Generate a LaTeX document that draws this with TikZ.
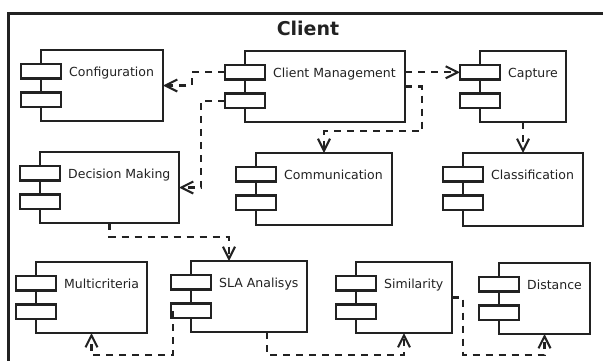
\documentclass[tikz,border=0pt]{standalone}
\usepackage{fontspec}
\setmainfont{DejaVu Sans}
\usetikzlibrary{calc,arrows.meta}
\definecolor{ink}{HTML}{222222}
\tikzset{
  body/.style={draw=ink, line width=2.2pt, fill=white, inner sep=0pt, outer sep=0pt},
  port/.style={draw=ink, line width=2.2pt, fill=white, inner sep=0pt, outer sep=0pt, minimum width=40pt, minimum height=14.5pt},
  lbl/.style={inner sep=0pt, text=ink, font=\fontsize{12.5}{15}\selectfont},
  dep/.style={draw=ink, line width=2.1pt, dash pattern=on 7pt off 6pt, -{Straight Barb[length=12pt,width=12pt]}},
}
\newcommand\mycomp[6]{%
  \node[body, minimum width=#4pt, minimum height=#5pt, anchor=north west] (#1) at (#2,#3) {};
  \node[port, anchor=north west] (#1-p1) at ($(#1.north west)+(-20,14)$) {};
  \node[port, anchor=north west] (#1-p2) at ($(#1.north west)+(-20,42.5)$) {};
  \node[lbl, anchor=base west] (#1-l) at ($(#1.north west)+(28,26)$) {#6};
}
\begin{document}
\begin{tikzpicture}[x=1pt,y=-1pt]
\useasboundingbox (0,0) rectangle (603,360);
\clip (0,0) rectangle (603,360);
\draw[ink, line width=3pt] (8,13) rectangle (660,420);
\node[text=ink, font=\fontsize{19}{22}\selectfont\bfseries, anchor=base] (title) at (308,35.5) {Client};
\mycomp{conf}{41}{50}{122}{71}{Configuration}
\mycomp{cm}{245}{51}{160}{71}{Client Management}
\mycomp{cap}{480}{51}{86}{71}{Capture}
\mycomp{dm}{40}{152}{139}{71}{Decision Making}
\mycomp{comm}{256}{153}{136}{72}{Communication}
\mycomp{class}{463}{153}{120}{73}{Classification}
\mycomp{multi}{36}{262}{111}{71}{Multicriteria}
\mycomp{sla}{191}{261}{116}{71}{SLA Analisys}
\mycomp{sim}{356}{262}{96}{71}{Similarity}
\mycomp{dist}{499}{263}{91}{71}{Distance}
\coordinate (bot) at (0,355);
% connectors
\draw[dep] (cm-p1.west) -- ++(-33,0) |- (conf.east);
\draw[dep] (cm-p2.west) -- ++(-24,0) |- (dm.east);
\draw[dep] (cm.east |- cm-p1.west) -- (cap-p1.west);
\draw[dep] (cm.east) -- ++(17,0) -- ++(0,44.5) -| (comm.north);
\draw[dep] (cap.south) -- (class.north);
\draw[dep] (dm.south) -- ++(0,14) -| ($(sla.north west)+(38,0)$);
\coordinate (s1) at ($(sla-p2.south west)+(2,-7)$);
\draw[dep] (s1) -- (s1 |- bot) -| (multi.south);
\coordinate (s2) at ($(sla.south west)+(76,0)$);
\draw[dep] (s2) -- (s2 |- bot) -| (sim.south);
\draw[dep] (sim.east) -- ++(11,0) coordinate (s3) -- (s3 |- bot) -| (dist.south);
\end{tikzpicture}
\end{document}
